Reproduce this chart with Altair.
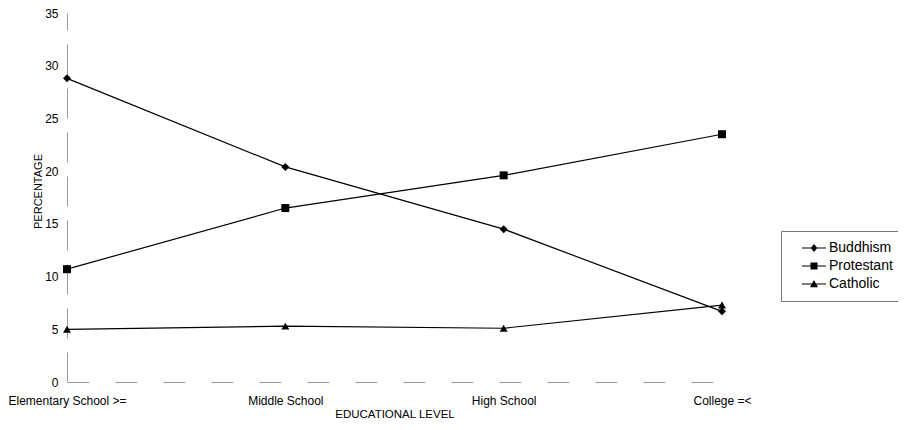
import altair as alt
import pandas as pd

levels = ["Elementary School >=", "Middle School", "High School", "College =<"]
series = ["Buddhism", "Protestant", "Catholic"]
buddhism = [28.8, 20.4, 14.5, 6.7]
protestant = [10.7, 16.5, 19.6, 23.5]
catholic = [5.0, 5.3, 5.1, 7.3]
y_ticks = [0, 5, 10, 15, 20, 25, 30, 35]

rows = []
for name, vals in zip(series, [buddhism, protestant, catholic]):
    for lvl, v in zip(levels, vals):
        rows.append({"level": lvl, "series": name, "value": v})
df = pd.DataFrame(rows)

FONT = "Liberation Sans"

x_enc = alt.X(
    "level:N",
    sort=levels,
    scale=alt.Scale(type="point", padding=0),
    axis=alt.Axis(
        title="EDUCATIONAL LEVEL",
        labelAngle=0,
        ticks=False,
        labelPadding=13,
        titlePadding=2,
        labelFontSize=12,
        titleFontSize=11.5,
        domainColor="#9a9a9a",
        domainDash=[22, 26],
        domainWidth=1,
    ),
)
y_enc = alt.Y(
    "value:Q",
    scale=alt.Scale(domain=[0, 35], nice=False),
    axis=alt.Axis(
        title="PERCENTAGE",
        values=y_ticks,
        ticks=False,
        grid=False,
        labelPadding=9,
        titlePadding=1,
        titleY=178,
        labelFontSize=12,
        titleFontSize=11,
        domainColor="#9a9a9a",
        domainDash=[30, 14],
        domainWidth=1,
    ),
)

lines = alt.Chart(df).mark_line(color="black", strokeWidth=1.2).encode(
    x=x_enc, y=y_enc, detail="series:N"
)

points = alt.Chart(df).mark_point(filled=True, color="black", opacity=1, size=64).encode(
    x=x_enc,
    y=y_enc,
    shape=alt.Shape(
        "series:N",
        scale=alt.Scale(domain=series, range=["diamond", "square", "triangle-up"]),
        legend=None,
    ),
)

BAR = "M-2.4,-0.12H2.4V0.12H-2.4Z"
legend_paths = [
    BAR + "M0,-0.8L0.65,0L0,0.8L-0.65,0Z",
    BAR + "M-0.7,-0.7H0.7V0.7H-0.7Z",
    BAR + "M0,-0.8L0.8,0.65H-0.8Z",
]

legend_layer = alt.Chart(df).mark_point(filled=True, color="black", opacity=0, size=100).encode(
    x=x_enc,
    y=y_enc,
    shape=alt.Shape(
        "series:N",
        scale=alt.Scale(domain=series, range=legend_paths),
        legend=alt.Legend(
            title=None,
            orient="none",
            legendX=714,
            legendY=218,
            symbolSize=100,
            symbolOffset=16,
            symbolOpacity=1,
            symbolFillColor="black",
            symbolStrokeWidth=0,
            labelFont=FONT,
            labelFontSize=14,
            labelColor="black",
            labelOffset=8,
            rowPadding=4,
            padding=10,
            strokeColor="#777777",
        ),
    ),
)

chart = (
    alt.layer(lines, points, legend_layer)
    .resolve_scale(shape="independent")
    .properties(
        width=655,
        height=369,
        autosize=alt.AutoSizeParams(type="none"),
        padding={"left": 59, "top": 5, "right": 176, "bottom": 40},
    )
    .configure_view(stroke=None)
    .configure_axis(
        labelFont=FONT,
        titleFont=FONT,
        labelColor="black",
        titleColor="black",
        titleFontWeight="normal",
    )
)

chart.save("out.html", embed_options={"renderer": "svg", "actions": False})
